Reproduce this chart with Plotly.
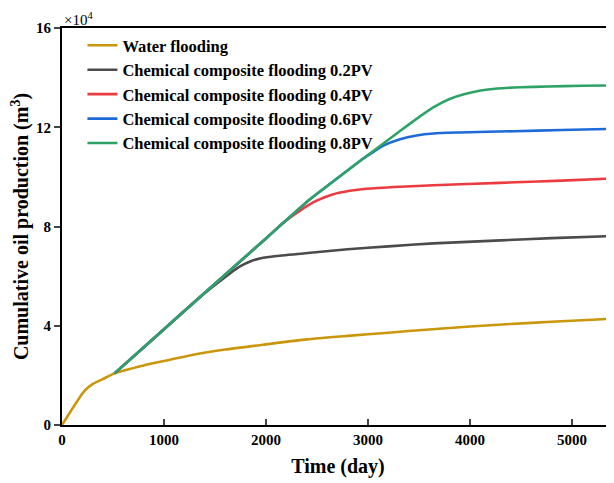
import plotly.graph_objects as go

# Cumulative oil production, units of 1e4 m^3
water_days = [0, 220, 300, 400, 515, 800, 1000, 1300, 1600, 2000, 2400, 2800, 3200, 3600, 4000, 4400, 4800, 5200, 5410]
water_vals = [0, 1.38, 1.65, 1.85, 2.08, 2.40, 2.58, 2.84, 3.04, 3.25, 3.45, 3.59, 3.72, 3.85, 3.97, 4.07, 4.16, 4.24, 4.29]

pv02_days = [515, 1000, 1351, 1450, 1550, 1650, 1750, 1850, 1950, 2100, 2433, 2800, 3200, 3640, 4300, 4800, 5410]
pv02_vals = [2.08, 3.86, 5.15, 5.48, 5.80, 6.12, 6.40, 6.60, 6.72, 6.81, 6.94, 7.08, 7.20, 7.32, 7.44, 7.53, 7.62]

pv04_days = [515, 1000, 1351, 1500, 2000, 2170, 2333, 2497, 2660, 2824, 2987, 3314, 3640, 4294, 4900, 5410]
pv04_vals = [2.08, 3.86, 5.15, 5.69, 7.52, 8.15, 8.64, 9.04, 9.30, 9.44, 9.52, 9.60, 9.66, 9.76, 9.85, 9.94]

pv06_days = [515, 1000, 1351, 1500, 2000, 2170, 2431, 2660, 2954, 3050, 3150, 3314, 3477, 3640, 3900, 4431, 4900, 5410]
pv06_vals = [2.08, 3.86, 5.15, 5.69, 7.52, 8.15, 9.10, 9.82, 10.74, 11.00, 11.26, 11.52, 11.67, 11.75, 11.79, 11.84, 11.89, 11.94]

pv08_days = [515, 1000, 1351, 1500, 2000, 2170, 2431, 2660, 2954, 3314, 3480, 3640, 3800, 3941, 4105, 4268, 4500, 4758, 5100, 5410]
pv08_vals = [2.08, 3.86, 5.15, 5.69, 7.52, 8.15, 9.10, 9.82, 10.74, 11.85, 12.35, 12.80, 13.14, 13.33, 13.48, 13.56, 13.61, 13.64, 13.67, 13.69]

names = ["Water flooding",
         "Chemical composite flooding 0.2PV",
         "Chemical composite flooding 0.4PV",
         "Chemical composite flooding 0.6PV",
         "Chemical composite flooding 0.8PV"]
colors = ["#C9960C", "#4B4B4B", "#EC3B40", "#1E6AD8", "#2FA266"]

x_ticks = [0, 1000, 2000, 3000, 4000, 5000]
y_ticks = [0, 4, 8, 12, 16]

series = [(water_days, water_vals), (pv02_days, pv02_vals), (pv04_days, pv04_vals),
          (pv06_days, pv06_vals), (pv08_days, pv08_vals)]

fig = go.Figure()
for (d, v), n, c in zip(series, names, colors):
    fig.add_trace(go.Scatter(x=d, y=v, name=n, mode="lines",
                             line=dict(color=c, width=2.6, shape="spline", smoothing=0.6)))

font_fam = "Liberation Serif, Times New Roman, serif"
# page body has an 8px margin, so the figure is sized to fill the remaining window
fig.update_layout(
    width=606, height=475,
    margin=dict(l=54, r=0, t=20, b=58),
    plot_bgcolor="white", paper_bgcolor="white",
    font=dict(family=font_fam, size=15, color="black", weight="bold"),
    showlegend=True,
    legend=dict(x=0.037, y=1.0, xanchor="left", yanchor="top",
                bgcolor="rgba(0,0,0,0)", font=dict(size=16.5, family=font_fam, weight="bold"),
                tracegroupgap=0),
    xaxis=dict(range=[0, 5412], tickvals=x_ticks, ticks="inside", ticklen=6, tickwidth=2,
               showline=True, linecolor="black", linewidth=2, mirror=True, showgrid=False,
               zeroline=False, automargin=False,
               tickfont=dict(size=15, family=font_fam, weight="bold"),
               title=dict(text="Time (day)", font=dict(size=20, family=font_fam, weight="bold"), standoff=12)),
    yaxis=dict(range=[0, 16], tickvals=y_ticks, ticks="outside", ticklen=6, tickwidth=2,
               showline=True, linecolor="black", linewidth=2, showgrid=False, zeroline=False,
               automargin=False,
               tickfont=dict(size=15, family=font_fam, weight="bold"),
               title=dict(text="Cumulative oil production (m<sup>3</sup>)",
                          font=dict(size=20, family=font_fam, weight="bold"), standoff=2)),
    annotations=[dict(text="×10<sup>4</sup>", xref="paper", yref="paper", x=0, y=1,
                      xanchor="left", yanchor="bottom", showarrow=False, yshift=-2,
                      font=dict(size=15, family=font_fam, weight="normal"))],
)

fig.write_html("out.html")
